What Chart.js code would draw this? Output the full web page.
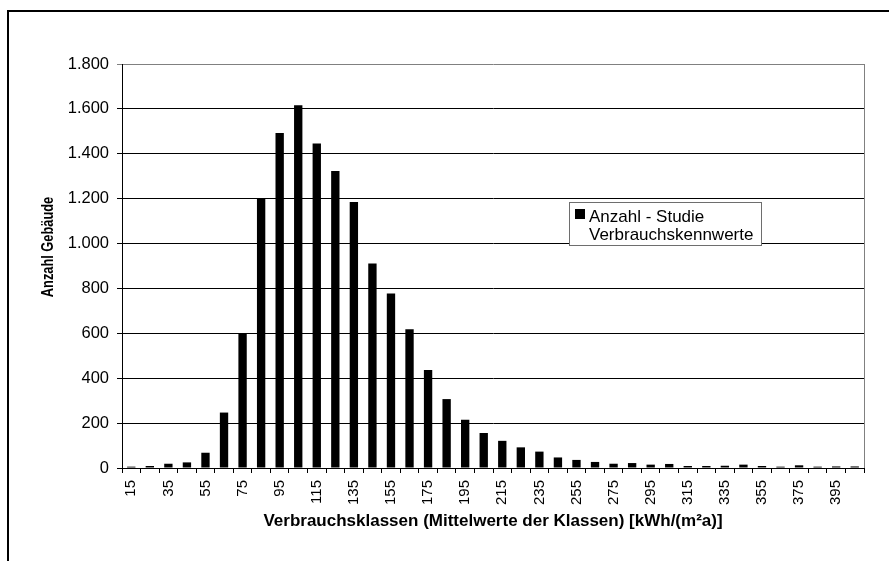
<!DOCTYPE html>
<html>
<head>
<meta charset="utf-8">
<script src="https://cdn.jsdelivr.net/npm/chart.js@4/dist/chart.umd.min.js"></script>
<style>
  html, body { margin: 0; padding: 0; background: #fff; }
  #wrap { position: absolute; left: 0; top: 0; width: 889px; height: 561px; }
</style>
</head>
<body>
<div id="wrap"><canvas id="c" width="889" height="561"></canvas></div>
<script>
// Categories: class mean values [kWh/(m²a)]
const categories = ['15','25','35','45','55','65','75','85','95','105','115','125','135','145','155','165','175','185','195','205','215','225','235','245','255','265','275','285','295','305','315','325','335','345','355','365','375','385','395','405'];
// Number of buildings per class
const anzahl = [6,9,19,25,68,247,600,1200,1493,1616,1446,1323,1185,911,778,618,437,307,215,156,121,92,73,47,36,27,19,22,15,18,9,9,10,15,9,6,12,6,7,7];
// x tick labels that are shown
const shownXLabels = ['15','35','55','75','95','115','135','155','175','195','215','235','255','275','295','315','335','355','375','395'];
// y ticks
const yTicks = [0,200,400,600,800,1000,1200,1400,1600,1800];
const seriesLabel = ['Anzahl - Studie', 'Verbrauchskennwerte'];
const xTitle = 'Verbrauchsklassen (Mittelwerte der Klassen) [kWh/(m²a)]';
const yTitle = 'Anzahl Gebäude';

const FONT = "'Liberation Sans', Arial, Helvetica, sans-serif";

function fmtDE(v) {
  return String(v).replace(/\B(?=(\d{3})+(?!\d))/g, '.');
}

const decor = {
  id: 'decor',
  beforeDraw(chart) {
    const ctx = chart.ctx;
    ctx.save();
    ctx.fillStyle = '#fff';
    ctx.fillRect(0, 0, chart.width, chart.height);
    // outer frame (top + left visible)
    ctx.fillStyle = '#000';
    ctx.fillRect(7, 10, chart.width - 7, 2);
    ctx.fillRect(7, 10, 2, chart.height - 10);
    ctx.restore();
  },
  afterDatasetsDraw(chart) {
    const ctx = chart.ctx;
    const a = chart.chartArea;
    ctx.save();
    // right plot-area border
    ctx.strokeStyle = '#808080';
    ctx.lineWidth = 1;
    ctx.beginPath();
    ctx.moveTo(Math.round(a.right) + 0.5, a.top);
    ctx.lineTo(Math.round(a.right) + 0.5, a.bottom);
    ctx.stroke();
    ctx.restore();
  },
  afterDraw(chart) {
    const ctx = chart.ctx;
    ctx.save();
    // y-axis title
    ctx.translate(49, 247);
    ctx.rotate(-Math.PI / 2);
    ctx.scale(0.8, 1);
    ctx.fillStyle = '#000';
    ctx.font = "bold 16px " + FONT;
    ctx.textAlign = 'center';
    ctx.textBaseline = 'middle';
    ctx.fillText(yTitle, 0, 0);
    ctx.restore();

    // legend box
    ctx.save();
    const lx = 569, ly = 202, lw = 192, lh = 43;
    ctx.fillStyle = '#fff';
    ctx.fillRect(lx, ly, lw, lh);
    ctx.strokeStyle = '#6e6e6e';
    ctx.lineWidth = 1;
    ctx.strokeRect(lx + 0.5, ly + 0.5, lw, lh);
    ctx.fillStyle = chart.data.datasets[0].backgroundColor;
    ctx.fillRect(575, 209, 10, 10);
    ctx.fillStyle = '#000';
    ctx.font = "17px " + FONT;
    ctx.textAlign = 'left';
    ctx.textBaseline = 'alphabetic';
    const lab = chart.data.datasets[0].label;
    ctx.fillText(lab[0], 589, 222);
    ctx.fillText(lab[1], 589, 240);
    ctx.restore();
  }
};

new Chart(document.getElementById('c'), {
  type: 'bar',
  data: {
    labels: categories,
    datasets: [{
      label: seriesLabel,
      data: anzahl,
      backgroundColor: '#000',
      borderWidth: 0,
      barPercentage: 0.45,
      categoryPercentage: 1.0
    }]
  },
  options: {
    responsive: false,
    animation: false,
    devicePixelRatio: 1,
    layout: { padding: { top: 64, right: 25, left: 0, bottom: 0 } },
    plugins: { legend: { display: false }, tooltip: { enabled: false } },
    scales: {
      x: {
        offset: true,
        grid: { display: true, drawOnChartArea: false, drawTicks: true, tickLength: 5, color: '#000', offset: true },
        border: { display: true, color: '#000', width: 1 },
        ticks: {
          autoSkip: false,
          minRotation: 90,
          maxRotation: 90,
          padding: 7,
          color: '#000',
          font: { family: FONT, size: 15 },
          callback: function(v, i) {
            const l = categories[i];
            return shownXLabels.includes(l) ? l : '';
          }
        },
        title: {
          display: true,
          text: xTitle,
          color: '#000',
          font: { family: FONT, size: 17, weight: 'bold' },
          padding: { top: 0, bottom: 29 }
        },
        afterFit(scale) { scale.height = 93; }
      },
      y: {
        min: 0,
        max: 1800,
        afterBuildTicks(scale) { scale.ticks = yTicks.map(v => ({ value: v })); },
        grid: {
          drawTicks: true,
          tickLength: 5,
          color: (c) => (c.tick && c.tick.value === 1800) ? '#808080' : '#000',
          lineWidth: 1
        },
        border: { display: true, color: '#000', width: 1 },
        ticks: {
          padding: 8,
          color: '#000',
          font: { family: FONT, size: 16.5 },
          callback: (v) => fmtDE(v)
        },
        afterFit(scale) { scale.width = 122; }
      }
    }
  },
  plugins: [decor]
});
</script>
</body>
</html>
